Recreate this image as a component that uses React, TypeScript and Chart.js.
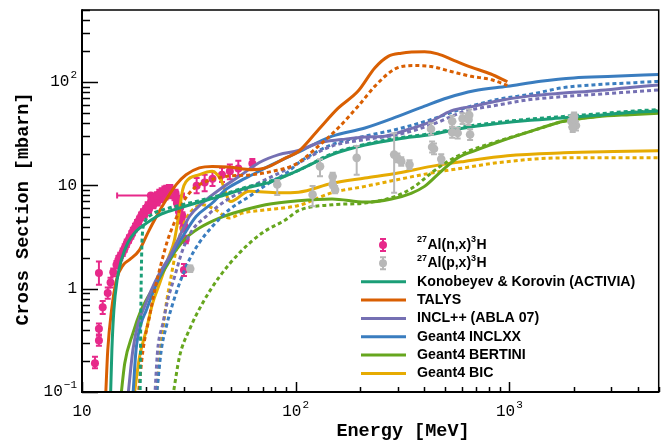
import React, { useEffect, useRef } from "react";
import { Chart, registerables } from "chart.js";
Chart.register(...registerables);

// ---------- axis ranges & tick labels ----------
const X_MIN = 10;
const X_MAX = 5000;
const Y_MIN = 0.1;
const Y_MAX = 500;
const xTickValues = [10, 100, 1000];
const xTickBase = ["10", "10", "10"];
const xTickExp = ["", "2", "3"];
const yTickValues = [0.1, 1, 10, 100];
const yTickBase = ["10", "1", "10", "10"];
const yTickExp = ["\u22121", "", "", "2"];
const xTitle = "Energy [MeV]";
const yTitle = "Cross Section [mbarn]";

// ---------- measured data: 27Al(n,x)3H ----------
const nE = [11.5, 12.0, 12.0, 12.0, 12.5, 13.2, 13.6, 14.0, 14.5, 14.8, 15.1, 15.5, 15.85, 16.2, 16.6, 17.0, 17.3, 17.7, 18.1, 18.5, 18.9, 19.3, 19.8, 20.3, 20.9, 21.4, 21.85, 22.4, 23.0, 23.6, 24.3, 24.8, 25.5, 25.9, 26.4, 27.1, 27.8, 28.4, 29.1, 29.8, 30.0, 34.4, 37.5, 40.8, 45.2, 49.2, 53.9, 62.7];
const nY = [0.19, 1.42, 0.315, 0.41, 0.66, 0.91, 1.15, 1.44, 1.71, 1.9, 2.05, 2.25, 2.48, 2.75, 3.03, 3.3, 3.59, 3.9, 4.26, 4.6, 5.02, 5.4, 5.82, 6.3, 6.76, 7.1, 7.56, 7.9, 8.32, 8.6, 8.96, 9.1, 9.25, 9.3, 8.76, 7.84, 6.76, 5.61, 4.66, 3.87, 1.52, 9.96, 10.7, 11.6, 12.7, 13.7, 14.6, 16.3];
const nLo = [0.17, 1.09, 0.28, 0.36, 0.57, 0.8, 1.03, 1.32, 1.57, 1.75, 1.89, 2.07, 2.28, 2.53, 2.79, 3.04, 3.3, 3.59, 3.92, 4.23, 4.62, 4.97, 5.35, 5.8, 6.22, 6.53, 6.96, 7.27, 7.65, 7.91, 8.24, 8.37, 8.51, 8.56, 8.06, 7.21, 6.22, 5.16, 4.29, 3.56, 1.33, 8.4, 8.8, 9.9, 10.8, 11.5, 12.4, 14.6];
const nHi = [0.22, 1.83, 0.35, 0.46, 0.76, 1.03, 1.28, 1.57, 1.86, 2.07, 2.23, 2.45, 2.7, 3.0, 3.3, 3.6, 3.9, 4.25, 4.64, 5.0, 5.47, 5.89, 6.34, 6.87, 7.37, 7.74, 8.24, 8.61, 9.07, 9.37, 9.77, 9.92, 10.1, 10.1, 9.55, 8.55, 7.37, 6.11, 5.08, 4.22, 1.74, 11.8, 12.7, 13.6, 14.8, 16.0, 17.3, 18.0];
// second neutron series (lower edge of the cloud)
const nE2 = [19.6, 20.6, 21.6, 22.6, 23.6, 24.6, 25.6, 27.4, 28.1, 28.8, 29.5, 30.2, 30.6];
const nY2 = [5.2, 5.9, 6.5, 7.0, 7.5, 7.9, 8.2, 8.4, 7.2, 6.1, 5.1, 4.0, 3.0];
const nLo2 = [4.8, 5.4, 6.0, 6.4, 6.9, 7.3, 7.5, 7.7, 6.6, 5.6, 4.7, 3.7, 2.75];
const nHi2 = [5.6, 6.4, 7.0, 7.6, 8.1, 8.5, 8.9, 9.1, 7.8, 6.6, 5.5, 4.35, 3.25];
// wide-bin neutron point
const nWideE = [21.0];
const nWideY = [8.0];
const nWideXLo = [14.6];
const nWideXHi = [30.0];

// ---------- measured data: 27Al(p,x)3H ----------
const pE = [32.1, 82, 120, 130, 149, 149, 153, 193, 289, 299, 312, 341, 430, 435, 444, 480, 540, 540, 573, 604, 644, 649, 655, 1950, 2000, 2050, 1980, 2010];
const pY = [1.56, 10.2, 8.15, 15.3, 12.2, 10.2, 9.1, 18.5, 19.9, 18.5, 17.1, 15.9, 35.2, 23.6, 22.7, 18.0, 41.8, 32.7, 32.2, 44.4, 43.4, 48, 31.1, 41.8, 44, 38, 36.5, 46.5];
const pLo = [1.45, 8.1, 6.3, 12.3, 11.2, 9.5, 8.4, 12.7, 8.5, 16.8, 15.5, 14.4, 31, 20.9, 20, 16.3, 36.9, 29, 28.5, 39.4, 38.5, 42, 27.6, 37, 39, 34, 33, 42];
const pHi = [1.68, 11.3, 9.9, 17.9, 13.3, 11, 9.9, 24.1, 32, 20.4, 18.8, 17.5, 40, 26.6, 25.5, 20, 47.4, 37, 36.3, 50, 49, 54.3, 35, 47, 49.5, 42, 40, 51];

// ---------- model curves (solid = n, dotted = p) ----------
const activiaNE = [13.6, 13.8, 14.1, 14.6, 15.3, 16.4, 17.9, 20, 23.1, 27.6, 34.2, 43.9, 58.4, 77.5, 103, 148, 211, 301, 431, 615, 879, 1256, 1795, 2566, 3665, 5000];
const activiaNY = [0.09, 0.255, 0.62, 1.22, 1.91, 2.79, 3.6, 4.3, 5.2, 5.9, 6.76, 7.8, 9.4, 10.9, 14.0, 19.9, 24.6, 28.2, 31.1, 36, 39.7, 42.8, 45.2, 47.8, 50.8, 52.7];
const activiaPE = [18.7, 18.9, 19.0, 19.1, 19.6, 21.1, 23.9, 27.6, 34.2, 43.9, 58.4, 77.5, 103, 148, 211, 301, 431, 615, 879, 1256, 1795, 2566, 3665, 5000];
const activiaPY = [0.09, 0.97, 1.91, 2.98, 4.3, 5.2, 5.8, 6.3, 7.0, 8.0, 9.6, 11.2, 14, 20.3, 25, 28.8, 31.8, 37, 40.8, 44, 46.6, 49.2, 52.3, 54.3];

const talysNE = [12.9, 13.2, 13.75, 14.5, 15.6, 16.7, 18.6, 20.3, 22.3, 24.8, 27.6, 30.7, 35.4, 40.7, 48.8, 62.4, 72.3, 89.8, 103, 128, 158, 196, 235, 271, 312, 401, 462, 553, 661, 819, 979];
const talysNY = [0.09, 0.255, 0.62, 1.22, 1.7, 1.91, 2.38, 3.46, 5.0, 7.3, 10.2, 12.7, 14.8, 15.3, 15.1, 14.2, 14.8, 18.5, 21.3, 34.8, 56, 82, 138, 178, 191, 197, 188, 162, 140, 120, 101];
const talysPE = [18.3, 19.3, 20.7, 21.9, 23.5, 25.2, 27.6, 29.6, 32.9, 38, 47, 62.6, 77.5, 99.7, 128, 158, 196, 235, 291, 361, 431, 534, 661, 819, 979];
const talysPY = [0.09, 0.255, 0.54, 0.97, 1.77, 2.98, 4.83, 6.76, 9.1, 10.9, 12.2, 12.7, 13.7, 16.0, 24.1, 36, 58.6, 91.5, 134, 145, 142, 127, 114, 106, 93];

const inclNE = [16.4, 17.3, 18.3, 19.6, 21.1, 23.1, 25.7, 28.6, 31.8, 36.6, 43.9, 54.3, 67.3, 83.4, 103, 128, 164, 211, 261, 336, 431, 534, 685, 879, 1256, 1795, 2566, 3665, 5000];
const inclNY = [0.09, 0.255, 0.46, 0.67, 0.97, 1.42, 2.05, 3.2, 5.0, 6.76, 9.1, 12.2, 16.6, 19.9, 21.8, 25.8, 27.8, 29.5, 30, 34.8, 41.8, 52.7, 58.6, 65.8, 73.7, 78.4, 82.5, 88.6, 94];
const inclPE = [21.9, 22.6, 23.9, 25.2, 27.1, 29.6, 32.9, 38, 45.4, 56.2, 72.3, 89.8, 103, 148, 211, 301, 431, 615, 879, 1256, 1795, 2566, 3665, 5000];
const inclPY = [0.09, 0.255, 0.46, 0.78, 1.3, 2.38, 3.72, 5.0, 6.76, 8.8, 11.4, 14.2, 16.5, 24.1, 27.8, 31.1, 38.6, 52, 60, 68, 72.5, 76.4, 80.5, 84.3];

const inclxxNE = [17.3, 17.9, 18.9, 20, 21.4, 23.9, 26.6, 29.6, 34.2, 40.7, 47, 54.3, 62.6, 77.5, 103, 148, 211, 301, 401, 515, 685, 979, 1400, 2000, 3070, 5000];
const inclxxNY = [0.09, 0.255, 0.46, 0.62, 0.9, 1.52, 2.22, 3.2, 5.0, 6.76, 9.1, 10.9, 12.7, 15.9, 21, 30, 36, 46.6, 58.6, 70.7, 82.5, 91.3, 102, 110, 114, 119];
const inclxxPE = [22.3, 23.5, 24.8, 26.6, 28.6, 31.8, 35.4, 40.7, 48.8, 60.5, 74.9, 92.8, 103, 148, 211, 301, 431, 615, 879, 1256, 1795, 2566, 3665, 5000];
const inclxxPY = [0.09, 0.255, 0.43, 0.72, 1.13, 1.91, 2.79, 4.0, 5.82, 7.8, 10.5, 13.7, 16.5, 24.9, 30, 35.2, 43.5, 56, 68, 76.4, 88.6, 94.8, 98.4, 102];

const bertiniNE = [15.2, 15.85, 17.3, 18.9, 20, 22.3, 24.8, 27.6, 30.7, 35.4, 43.9, 54.3, 72.3, 103, 148, 211, 281, 347, 401, 480, 573, 710, 879, 1256, 1795, 2566, 3665, 5000];
const bertiniNY = [0.09, 0.19, 0.37, 0.62, 0.78, 1.13, 1.64, 2.38, 3.1, 3.87, 4.83, 5.6, 6.5, 7.1, 7.4, 6.9, 7.4, 8.4, 9.8, 13.7, 18.5, 22.2, 26.2, 33.4, 41.8, 46.3, 48.5, 50];
const bertiniPE = [26.6, 28.6, 31.8, 36.6, 43.9, 54.3, 69.6, 89.8, 103, 148, 211, 291, 361, 431, 515, 639, 879, 1256, 1795, 2566, 3665, 5000];
const bertiniPY = [0.09, 0.22, 0.4, 0.72, 1.3, 2.2, 3.46, 4.66, 5.7, 6.5, 6.76, 7.8, 9.8, 13.2, 17.1, 21.3, 26.7, 33.4, 41.8, 46.6, 50.8, 53];

const bicNE = [17.5, 18.6, 20, 21.4, 23.1, 25.2, 27.1, 28.6, 29.6, 30.7, 35.4, 40.7, 44.6, 49.6, 60.5, 83.4, 103, 148, 211, 301, 431, 615, 979, 1795, 3070, 5000];
const bicNY = [0.09, 0.22, 0.4, 0.72, 1.13, 1.91, 2.98, 5.82, 9.1, 10.9, 12.7, 13.7, 11.4, 7.0, 8.8, 8.5, 8.6, 10.5, 11.8, 13.2, 15.3, 17.1, 19.4, 20.7, 21.3, 21.7];
const bicPE = [22.3, 23.1, 23.9, 24.8, 26.1, 27.6, 29.6, 32.4, 36.6, 42.2, 48.8, 56.2, 72.3, 103, 148, 211, 301, 431, 615, 879, 1795, 5000];
const bicPY = [0.09, 0.22, 0.4, 0.72, 1.3, 2.38, 4.0, 5.6, 6.5, 5.82, 4.83, 5.4, 5.8, 6.4, 8.5, 9.8, 11.4, 13.2, 14.8, 16.6, 18.5, 18.5];

// ---------- legend ----------
const legendLineLabels = ["Konobeyev & Korovin (ACTIVIA)", "TALYS", "INCL++ (ABLA 07)", "Geant4 INCLXX", "Geant4 BERTINI", "Geant4 BIC"];
const C_ACTIVIA = "#1b9e77";
const C_TALYS = "#d95f02";
const C_INCL = "#7570b3";
const C_INCLXX = "#3a7dbf";
const C_BERTINI = "#66a61e";
const C_BIC = "#e6ab02";
const C_N = "#e7298a";
const C_P = "#b8b8b8";
const legendLineColors = [C_ACTIVIA, C_TALYS, C_INCL, C_INCLXX, C_BERTINI, C_BIC];

function pts(xs: number[], ys: number[]) {
  return xs.map((x, i) => ({ x, y: ys[i] }));
}

function lineDs(label: string, xs: number[], ys: number[], color: string, dotted: boolean, order: number) {
  return {
    label,
    data: pts(xs, ys),
    showLine: true,
    borderColor: color,
    backgroundColor: color,
    borderWidth: 3,
    borderDash: dotted ? [4, 3] : [],
    borderCapStyle: "butt",
    pointRadius: 0,
    pointHoverRadius: 0,
    cubicInterpolationMode: "monotone",
    fill: false,
    clip: 0,
    order,
  };
}

function pointDs(label: string, xs: number[], ys: number[], lo: number[] | null, hi: number[] | null, color: string, r: number, order: number, extra: any = {}) {
  return {
    label,
    data: pts(xs, ys),
    yLo: lo,
    yHi: hi,
    showLine: false,
    pointRadius: r,
    pointHoverRadius: r,
    pointBorderWidth: 0,
    backgroundColor: color,
    borderColor: color,
    clip: 0,
    order,
    ...extra,
  };
}

const errorBarPlugin = {
  id: "errbars",
  beforeDatasetDraw(chart: any, args: any) {
    const ds: any = chart.data.datasets[args.index];
    if (!ds.yLo && !ds.xLo) return;
    const xs = chart.scales.x;
    const ys = chart.scales.y;
    const ctx = chart.ctx;
    const a = chart.chartArea;
    ctx.save();
    ctx.beginPath();
    ctx.rect(a.left, a.top, a.right - a.left, a.bottom - a.top);
    ctx.clip();
    ctx.strokeStyle = ds.backgroundColor;
    ctx.lineWidth = 2;
    ds.data.forEach((p: any, i: number) => {
      const px = xs.getPixelForValue(p.x);
      const py = ys.getPixelForValue(p.y);
      ctx.beginPath();
      if (ds.yLo) {
        const y1 = ys.getPixelForValue(ds.yLo[i]);
        const y2 = ys.getPixelForValue(ds.yHi[i]);
        ctx.moveTo(px, y1);
        ctx.lineTo(px, y2);
        ctx.moveTo(px - 3, y1);
        ctx.lineTo(px + 3, y1);
        ctx.moveTo(px - 3, y2);
        ctx.lineTo(px + 3, y2);
      }
      if (ds.xLo) {
        const x1 = xs.getPixelForValue(ds.xLo[i]);
        const x2 = xs.getPixelForValue(ds.xHi[i]);
        ctx.moveTo(x1, py);
        ctx.lineTo(x2, py);
        ctx.moveTo(x1, py - 3);
        ctx.lineTo(x1, py + 3);
        ctx.moveTo(x2, py - 3);
        ctx.lineTo(x2, py + 3);
      }
      ctx.stroke();
    });
    ctx.restore();
  },
};

const MONO = "'Liberation Mono', 'DejaVu Sans Mono', monospace";
const SANS = "'Liberation Sans', Arial, sans-serif";

function labelWidth(ctx: CanvasRenderingContext2D, base: string, exp: string) {
  ctx.font = `16px ${MONO}`;
  let w = ctx.measureText(base).width;
  if (exp) {
    ctx.font = `11px ${MONO}`;
    w += 1 + ctx.measureText(exp).width;
  }
  return w;
}

function drawPowLabel(ctx: CanvasRenderingContext2D, base: string, exp: string, left: number, y: number) {
  ctx.textAlign = "left";
  ctx.textBaseline = "middle";
  ctx.font = `16px ${MONO}`;
  ctx.fillText(base, left, y);
  const w = ctx.measureText(base).width;
  if (exp) {
    ctx.font = `11px ${MONO}`;
    ctx.fillText(exp, left + w + 1, y - 7);
  }
}

function drawRich(ctx: CanvasRenderingContext2D, parts: { t: string; sup?: boolean }[], x: number, y: number) {
  let cx = x;
  ctx.textAlign = "left";
  ctx.textBaseline = "middle";
  parts.forEach((p) => {
    ctx.font = p.sup ? `bold 9px ${SANS}` : `bold 14px ${SANS}`;
    ctx.fillText(p.t, cx, p.sup ? y - 5 : y);
    cx += ctx.measureText(p.t).width + (p.sup ? 0.5 : 0);
  });
}

const framePlugin = {
  id: "frame",
  afterDraw(chart: any) {
    const ctx: CanvasRenderingContext2D = chart.ctx;
    const a = chart.chartArea;
    const xs = chart.scales.x;
    const ys = chart.scales.y;
    ctx.save();
    ctx.strokeStyle = "#000";
    ctx.fillStyle = "#000";
    // frame
    ctx.lineWidth = 1.5;
    ctx.beginPath();
    ctx.moveTo(a.left, a.top);
    ctx.lineTo(a.right, a.top);
    ctx.lineTo(a.right, a.bottom);
    ctx.stroke();
    ctx.lineWidth = 2;
    ctx.beginPath();
    ctx.moveTo(a.left, a.top - 0.75);
    ctx.lineTo(a.left, a.bottom);
    ctx.lineTo(a.right + 0.75, a.bottom);
    ctx.stroke();
    // y ticks
    ctx.lineWidth = 1.5;
    ctx.beginPath();
    for (let d = -1; d <= 2; d++) {
      for (let k = 1; k <= 9; k++) {
        const v = k * Math.pow(10, d);
        if (v < Y_MIN - 1e-9 || v > Y_MAX + 1e-9) continue;
        const py = Math.round(ys.getPixelForValue(v)) + 0.5;
        const len = k === 1 ? 16 : 8;
        ctx.moveTo(a.left, py);
        ctx.lineTo(a.left + len, py);
      }
    }
    // x ticks
    for (let d = 1; d <= 3; d++) {
      for (let k = 1; k <= 9; k++) {
        const v = k * Math.pow(10, d);
        if (v < X_MIN - 1e-9 || v > X_MAX + 1e-9) continue;
        const px = Math.round(xs.getPixelForValue(v)) + 0.5;
        const len = k === 1 ? 10 : 5;
        ctx.moveTo(px, a.bottom);
        ctx.lineTo(px, a.bottom - len);
      }
    }
    ctx.stroke();
    // tick labels
    xTickValues.forEach((v, i) => {
      const w = labelWidth(ctx, xTickBase[i], xTickExp[i]);
      const px = xs.getPixelForValue(v);
      drawPowLabel(ctx, xTickBase[i], xTickExp[i], px - w / 2, 412);
    });
    yTickValues.forEach((v, i) => {
      const w = labelWidth(ctx, yTickBase[i], yTickExp[i]);
      const py = ys.getPixelForValue(v);
      drawPowLabel(ctx, yTickBase[i], yTickExp[i], 77 - w, py);
    });
    // titles
    ctx.font = `bold 18.5px ${MONO}`;
    ctx.textAlign = "center";
    ctx.textBaseline = "middle";
    ctx.fillText(xTitle, 403, 431);
    ctx.save();
    ctx.translate(23, 209);
    ctx.rotate(-Math.PI / 2);
    ctx.fillText(yTitle, 0, 0);
    ctx.restore();

    // legend
    const LX0 = 361, LX1 = 406, LXM = 383, LXT = 417, LY0 = 245, LDY = 18.35;
    const markers = [C_N, C_P];
    markers.forEach((c, i) => {
      const y = LY0 + i * LDY;
      ctx.strokeStyle = c;
      ctx.fillStyle = c;
      ctx.lineWidth = 2;
      ctx.beginPath();
      ctx.moveTo(LXM, y - 6);
      ctx.lineTo(LXM, y + 6);
      ctx.moveTo(LXM - 3, y - 6);
      ctx.lineTo(LXM + 3, y - 6);
      ctx.moveTo(LXM - 3, y + 6);
      ctx.lineTo(LXM + 3, y + 6);
      ctx.stroke();
      ctx.beginPath();
      ctx.arc(LXM, y, 4, 0, Math.PI * 2);
      ctx.fill();
    });
    ctx.fillStyle = "#000";
    drawRich(ctx, [{ t: "27", sup: true }, { t: "Al(n,x)" }, { t: "3", sup: true }, { t: "H" }], LXT, LY0);
    drawRich(ctx, [{ t: "27", sup: true }, { t: "Al(p,x)" }, { t: "3", sup: true }, { t: "H" }], LXT, LY0 + LDY);
    legendLineLabels.forEach((lab, i) => {
      const y = LY0 + (i + 2) * LDY;
      ctx.strokeStyle = legendLineColors[i];
      ctx.lineWidth = 3;
      ctx.beginPath();
      ctx.moveTo(LX0, y);
      ctx.lineTo(LX1, y);
      ctx.stroke();
      ctx.fillStyle = "#000";
      ctx.font = `bold 14.2px ${SANS}`;
      ctx.textAlign = "left";
      ctx.textBaseline = "middle";
      ctx.fillText(lab, LXT, y);
    });
    ctx.restore();
  },
};

export default function App() {
  const ref = useRef<HTMLCanvasElement>(null);
  useEffect(() => {
    const datasets: any[] = [
      pointDs("27Al(p,x)3H", pE, pY, pLo, pHi, C_P, 4.3, 0),
      lineDs("ACTIVIA n", activiaNE, activiaNY, C_ACTIVIA, false, 2),
      lineDs("ACTIVIA p", activiaPE, activiaPY, C_ACTIVIA, true, 2),
      lineDs("TALYS n", talysNE, talysNY, C_TALYS, false, 3),
      lineDs("TALYS p", talysPE, talysPY, C_TALYS, true, 3),
      lineDs("INCL n", inclNE, inclNY, C_INCL, false, 4),
      lineDs("INCL p", inclPE, inclPY, C_INCL, true, 4),
      lineDs("INCLXX n", inclxxNE, inclxxNY, C_INCLXX, false, 5),
      lineDs("INCLXX p", inclxxPE, inclxxPY, C_INCLXX, true, 5),
      lineDs("BERTINI n", bertiniNE, bertiniNY, C_BERTINI, false, 6),
      lineDs("BERTINI p", bertiniPE, bertiniPY, C_BERTINI, true, 6),
      lineDs("BIC n", bicNE, bicNY, C_BIC, false, 7),
      lineDs("BIC p", bicPE, bicPY, C_BIC, true, 7),
      pointDs("27Al(n,x)3H", nE, nY, nLo, nHi, C_N, 4, 20),
      pointDs("27Al(n,x)3H b", nE2, nY2, nLo2, nHi2, C_N, 4, 21),
      pointDs("27Al(n,x)3H wide", nWideE, nWideY, null, null, C_N, 4, 22, { xLo: nWideXLo, xHi: nWideXHi }),
    ];
    const chart = new Chart(ref.current as HTMLCanvasElement, {
      type: "scatter",
      data: { datasets },
      options: {
        responsive: false,
        maintainAspectRatio: false,
        animation: false,
        devicePixelRatio: 1,
        events: [],
        layout: { padding: { left: 82, right: 2, top: 10, bottom: 48 } },
        scales: {
          x: { type: "logarithmic", min: X_MIN, max: X_MAX, display: false },
          y: { type: "logarithmic", min: Y_MIN, max: Y_MAX, display: false },
        },
        plugins: { legend: { display: false }, tooltip: { enabled: false } },
      } as any,
      plugins: [errorBarPlugin, framePlugin],
    });
    return () => chart.destroy();
  }, []);
  return (
    <div style={{ position: "absolute", left: 0, top: 0, width: 663, height: 440, background: "#fff" }}>
      <canvas ref={ref} width={663} height={440} style={{ display: "block", width: 663, height: 440 }} />
    </div>
  );
}
